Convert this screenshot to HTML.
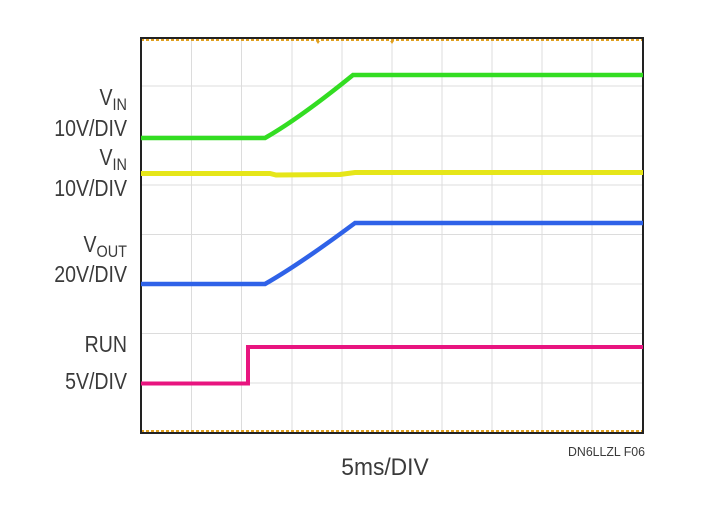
<!DOCTYPE html>
<html><head><style>
html,body{margin:0;padding:0;background:#fff;}
body{width:724px;height:502px;overflow:hidden;}
text{font-family:"Liberation Sans",sans-serif;fill:#3a3a3a;}
</style></head><body>
<svg width="724" height="502" viewBox="0 0 724 502" xmlns="http://www.w3.org/2000/svg">
<rect width="724" height="502" fill="#fff"/>
<g stroke="#dcdcdc" stroke-width="1">
<line x1="191.5" y1="38" x2="191.5" y2="433"/><line x1="241.5" y1="38" x2="241.5" y2="433"/>
<line x1="292" y1="38" x2="292" y2="433"/><line x1="342" y1="38" x2="342" y2="433"/>
<line x1="392" y1="38" x2="392" y2="433"/><line x1="442" y1="38" x2="442" y2="433"/>
<line x1="492" y1="38" x2="492" y2="433"/><line x1="542" y1="38" x2="542" y2="433"/>
<line x1="592" y1="38" x2="592" y2="433"/>
<line x1="141" y1="86" x2="643" y2="86"/><line x1="141" y1="136" x2="643" y2="136"/>
<line x1="141" y1="185" x2="643" y2="185"/><line x1="141" y1="234.5" x2="643" y2="234.5"/>
<line x1="141" y1="284" x2="643" y2="284"/><line x1="141" y1="333.5" x2="643" y2="333.5"/>
<line x1="141" y1="383" x2="643" y2="383"/>
</g>
<line x1="141" y1="40" x2="643" y2="40" stroke="#e0a020" stroke-width="2" stroke-dasharray="3,2"/>
<line x1="141" y1="431" x2="643" y2="431" stroke="#e0a020" stroke-width="2" stroke-dasharray="3,2"/>
<path d="M316 41 l4 0 l-2 3z M390 41 l4 0 l-2 3z" fill="#e0a020"/>
<rect x="141" y="38" width="502" height="395" fill="none" stroke="#222" stroke-width="2"/>
<path d="M141 138 L265 138 Q300 118 353 75 L643 75" fill="none" stroke="#33dd22" stroke-width="4.5"/>
<path d="M141 173.5 L270 173.5 L276 175 L340 174.5 L355 172.5 L643 172.5" fill="none" stroke="#e6e619" stroke-width="5"/>
<path d="M141 284 L265 284 Q300 264 355 223 L643 223" fill="none" stroke="#2f62e8" stroke-width="4.5"/>
<path d="M141 383.5 L248 383.5 L248 347 L643 347" fill="none" stroke="#e8157f" stroke-width="4"/>
<g text-anchor="end" font-size="23">
<text x="127" y="105" transform="translate(127 0) scale(0.85 1) translate(-127 0)">V<tspan font-size="17" dy="5">IN</tspan></text>
<text x="127" y="136" transform="translate(127 0) scale(0.85 1) translate(-127 0)">10V/DIV</text>
<text x="127" y="165" transform="translate(127 0) scale(0.85 1) translate(-127 0)">V<tspan font-size="17" dy="5">IN</tspan></text>
<text x="127" y="196" transform="translate(127 0) scale(0.85 1) translate(-127 0)">10V/DIV</text>
<text x="127" y="252" transform="translate(127 0) scale(0.85 1) translate(-127 0)">V<tspan font-size="17" dy="5">OUT</tspan></text>
<text x="127" y="282" transform="translate(127 0) scale(0.85 1) translate(-127 0)">20V/DIV</text>
<text x="127" y="352" transform="translate(127 0) scale(0.85 1) translate(-127 0)">RUN</text>
<text x="127" y="389" transform="translate(127 0) scale(0.85 1) translate(-127 0)">5V/DIV</text>
</g>
<text x="385" y="475" text-anchor="middle" font-size="24" transform="translate(385 0) scale(0.95 1) translate(-385 0)">5ms/DIV</text>
<text x="645" y="456" text-anchor="end" font-size="13" transform="translate(645 0) scale(0.95 1) translate(-645 0)">DN6LLZL F06</text>
</svg>
</body></html>
